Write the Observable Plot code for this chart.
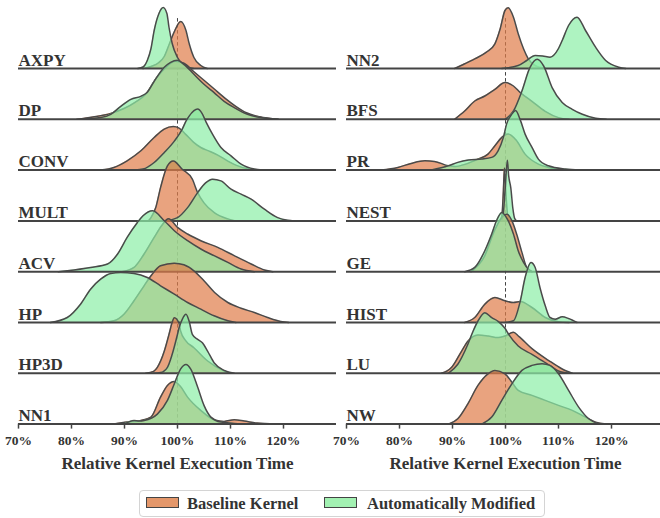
<!DOCTYPE html>
<html><head><meta charset="utf-8">
<script src="https://cdn.jsdelivr.net/npm/d3@7"></script>
<script src="https://cdn.jsdelivr.net/npm/@observablehq/plot@0.6"></script>
<style>
html,body{margin:0;padding:0;background:#fff;overflow:hidden;width:660px;height:518px;position:relative;}
#chart{position:absolute;left:0;top:0;}
#chart svg{max-width:none;}
.legend{position:absolute;left:139px;top:490px;width:406px;height:27px;box-sizing:border-box;border:1px solid #d4d4d4;border-radius:4px;font:bold 16.5px "Liberation Serif",serif;color:#333;}
.legend .sw{position:absolute;top:6px;width:33px;height:11px;box-sizing:border-box;border:1.3px solid #444;}
.legend .lb{position:absolute;top:3px;line-height:19px;white-space:nowrap;}
</style></head>
<body>
<div id="chart"></div>
<div class="legend" id="legend"></div>
<script>
// ---------- data ----------
const leftKernels = ["AXPY","DP","CONV","MULT","ACV","HP","HP3D","NN1"];
const rightKernels = ["NN2","BFS","PR","NEST","GE","HIST","LU","NW"];
const seriesNames = ["Baseline Kernel","Automatically Modified"];
const seriesColors = ["#E07C48","#8CEEA6"];
const legendColors = ["#E4976A","#A2F1B2"];
const xTicks = [70,80,90,100,110,120];
const xDomain = [70,130];
const axisTitle = "Relative Kernel Execution Time";

// [relative execution time %, density (relative units)]
const AXPY_base = [[93.5,0],[95,2],[96.5,6],[97.5,12],[98.5,25],[99.5,38],[100.6,47],[101.6,38],[102.2,25],[103.1,11],[104.4,3],[105.6,0]];
const AXPY_mod  = [[92.5,0],[93.5,1.5],[94.3,8],[95,20],[95.6,38],[96.5,55],[97.3,61],[98,55],[98.4,41],[99,25],[100,11],[101.3,3],[103,0]];
const DP_base   = [[81,0],[84,2.3],[87.3,5.7],[90,11],[92,17],[94,25],[96,41],[98,53],[99.6,58],[101.2,56],[103,48],[105,39],[107,30],[109,21],[111,13],[113,6.5],[115.5,2.5],[119,0]];
const DP_mod    = [[81.8,0],[85.5,1.7],[87.4,5],[89.3,13],[91.2,20],[93.1,23],[94.3,27],[95.6,38],[97.5,52],[98.7,57],[100,59],[101.2,55],[103.1,45],[105,35],[106.9,26.7],[108.8,18],[110.7,11.7],[113.2,5],[115.7,1.7],[119,0]];
const CONV_base = [[85.5,0],[88,2.6],[90.5,9.3],[93.1,19.3],[95.6,32.6],[97.5,41],[99.2,43.5],[100.3,42],[101.5,36],[103,28],[104.4,22.6],[106,19],[107.6,15],[109.5,9],[111,5],[113.5,1],[115,0]];
const CONV_mod  = [[92,0],[93.5,1],[95.6,7.6],[97.5,17.6],[99.4,29],[100.9,41],[101.6,49],[102.2,54],[103.8,61],[104.6,57],[105.4,48],[106.6,36],[108.2,22.6],[110.1,14.3],[112,6],[114.5,1],[116,0]];
const MULT_base = [[94.5,0],[95,3.3],[95.9,13.3],[96.8,33.3],[98.1,55],[99.2,60],[100.9,51.7],[102.8,41.7],[103.8,28.3],[105,18],[107,8],[109.5,2],[111,0]];
const MULT_mod  = [[97.5,0],[100,3.3],[101.9,13.3],[103.8,28.3],[105.3,38],[106.6,41.7],[108.2,40],[110.1,31.7],[112,26.7],[113.9,21.7],[116.4,11.7],[118.9,3.3],[120.8,0.7],[122,0]];
const ACV_base  = [[89.5,0],[91.8,4.3],[93.7,17.7],[95.6,34.3],[97,46],[98.3,53],[100,44.3],[101.9,37.7],[104.4,31],[107.6,24.3],[110.7,16],[113.9,7.7],[116.4,1.7],[118,0]];
const ACV_mod   = [[77.5,0],[79.2,1],[83.6,4.3],[86.8,7.7],[88.7,17.7],[90.5,34.3],[92.4,49],[93.5,56],[95.3,61],[97.5,51],[99.4,41],[101.9,31],[104.4,22.7],[106.9,16],[109.5,9.3],[112,2.7],[114.5,0]];
const HP_base   = [[85.5,0],[88,1.7],[89.9,8.3],[91.8,21.7],[93.7,36.7],[95,46.7],[96.8,56.7],[99.4,59.3],[101.2,57.7],[103.1,51.7],[105,41.7],[107,30],[109.5,20],[112,14.3],[114.5,10],[117,5],[119.5,1],[121,0]];
const HP_mod    = [[76,0],[79.2,5],[81.7,18.3],[83.6,33.3],[85.5,43.3],[87.4,49],[89.3,50],[91.8,49],[94.3,45],[96.8,36.7],[99.4,28.3],[101.9,20],[104.4,13.3],[106.9,6.7],[109.5,1.7],[111,0]];
const HP3D_base = [[94,0],[95.5,2],[96.2,6],[97.5,22],[98.4,39],[99,51],[99.4,55.6],[100.3,50],[100.6,42],[101.5,33],[103.1,25.6],[105.7,12.3],[108.8,2.3],[110,0]];
const HP3D_mod  = [[95.5,0],[96.8,0.7],[98.1,6],[99,19],[100,39],[100.3,45.6],[100.9,54],[101.6,59],[102.2,52],[102.8,39],[103.8,34],[104.7,30.6],[105.7,22],[106.9,10.6],[108.8,3],[110.7,0]];
const NN1_base  = [[88,0],[90.5,2],[93.1,3.7],[95,7],[96.8,27],[98.1,38.7],[99.4,42.7],[100.5,38],[101.9,27],[104.4,13.7],[106.9,4.3],[108.8,2.7],[110.7,4.3],[112.6,3],[115,1],[118.5,0]];
const NN1_mod   = [[89.9,0],[91.8,3.7],[92.8,3.2],[93.7,3.7],[96.2,10],[98.1,23.7],[99.4,40.3],[100.6,55.3],[101.6,59.7],[102.5,55],[103.8,37],[105,18.7],[106.3,7],[108.2,2],[110.7,0.7],[112,0]];

const NN2_base  = [[90.4,0],[92.3,4.7],[94.2,9.7],[96.4,16.3],[98,24.7],[99,39.7],[99.9,58],[100.5,60.7],[101.5,51.3],[102.4,34.7],[103.4,19.7],[104.3,9.7],[105.6,3],[107.5,0]];
const NN2_mod   = [[99.3,0],[102.4,3],[104,8],[105.6,13],[107,12.5],[108.4,11.3],[110,20],[110.7,28],[111.9,43],[113.5,51.3],[115.1,38],[117,21.3],[118.9,8],[121.4,1.3],[122.7,0]];
const BFS_base  = [[90.4,0],[92.3,8.3],[94.2,18.3],[96.1,23.3],[98,30],[99.9,36.7],[101.5,33.3],[102.8,26.7],[105,18],[107.5,8],[110,1.7],[112,0]];
const BFS_mod   = [[99.9,0],[101.5,8.3],[103.1,28.3],[104.6,51.7],[106,60],[107.2,53.3],[108.8,31.7],[110.7,16.7],[112.6,10],[114.5,5],[117,1],[119,0]];
const PR_base   = [[76.5,0],[79.7,2.7],[82.2,6.7],[84.8,9.3],[86.6,8.7],[89.2,4.3],[90.5,3.5],[92.5,6],[94.8,11],[96.7,16],[98,24.3],[99.3,32.7],[100.5,36],[102,30],[103.7,16],[106.2,6],[108.1,2.7],[111.3,0.3],[113,0]];
const PR_mod    = [[86,0],[89.2,4.3],[91,7.7],[93,10],[95.5,11],[97.4,12.7],[98.6,19.3],[99.6,32.7],[100.2,46],[101.2,56],[101.9,59.5],[102.8,50],[103.7,36],[105,22.7],[106.2,11],[108.1,4.3],[111.3,1],[114,0]];
const NEST_base = [[98.9,0],[99.3,4],[99.6,30],[99.8,53],[100.05,30],[100.4,6],[100.9,0]];
const NEST_mod  = [[99.1,0],[99.5,4],[99.95,33],[100.35,60.7],[100.6,45],[101,33],[101.4,12],[101.7,3],[102.1,0]];
const GE_base   = [[93.5,0],[96,15],[98,42],[99.6,56],[100.3,57.5],[101.2,51],[102.1,37.7],[103.1,19.3],[104,4.3],[105,0]];
const GE_mod    = [[92.3,0],[94.2,4.3],[96.1,21],[97.4,37.7],[98.3,51],[99.3,59.3],[100.5,51],[101.5,37.7],[102.4,21],[103.4,9.3],[104.3,2.7],[105,0]];
const HIST_base = [[92.3,0],[94.2,5],[96.1,18.3],[98,25],[99.9,21.7],[101.5,20],[102.8,21],[105,15],[107.5,5],[110,0.7],[112,0]];
const HIST_mod  = [[99.9,0],[101.5,1.7],[102.8,21.7],[103.7,45],[104.8,60],[105.6,55],[106.5,35],[107.5,16.7],[108.4,5],[109.4,3.3],[110.7,5.7],[111.9,4],[113.5,0]];
const LU_base   = [[87.9,0],[89.8,5.7],[91.7,22],[92.9,32],[94.8,38.3],[96.7,37.3],[98.6,35.7],[99.9,37.3],[101.5,41],[102.5,37],[105,24.7],[108.1,13],[110.7,4.3],[112.6,0]];
const LU_mod    = [[89.2,0],[91,9],[92.9,29],[93.9,42.3],[94.8,52.3],[96.1,60.6],[97.4,55.6],[98.6,52],[99.9,45],[100.6,39],[102.4,27.3],[105,19],[107.5,10.7],[110,2.3],[112,0]];
const NW_base   = [[89.2,0],[91,5.3],[92.9,20.3],[94.8,38.7],[96.7,50.3],[98,53.7],[99.9,50.3],[101.2,42],[102.4,33.7],[105,28.7],[107.5,23.7],[110,18.7],[112.6,13.7],[115.1,7],[117,2],[119,0]];
const NW_mod    = [[95.5,0],[97.4,7],[99.3,23.7],[101.2,40.3],[103.1,53.7],[105,58.7],[106.9,60.3],[108.4,58.7],[110,50.3],[111.9,33.7],[113.8,17],[115.7,5.3],[117.6,0]];

// ---------- build table ----------
const curveLookup = {
  AXPY:[AXPY_base,AXPY_mod], DP:[DP_base,DP_mod], CONV:[CONV_base,CONV_mod], MULT:[MULT_base,MULT_mod],
  ACV:[ACV_base,ACV_mod], HP:[HP_base,HP_mod], HP3D:[HP3D_base,HP3D_mod], NN1:[NN1_base,NN1_mod],
  NN2:[NN2_base,NN2_mod], BFS:[BFS_base,BFS_mod], PR:[PR_base,PR_mod], NEST:[NEST_base,NEST_mod],
  GE:[GE_base,GE_mod], HIST:[HIST_base,HIST_mod], LU:[LU_base,LU_mod], NW:[NW_base,NW_mod]
};
const panels = ["L","R"];
const panelKernels = {L:leftKernels, R:rightKernels};
const nRows = leftKernels.length;
const ROW_STEP = 50.8; // vertical offset between ridges (same units as density)
const offset = r => (nRows - 1 - r) * ROW_STEP;

const table = [];
const labels = [];
for (const p of panels) {
  panelKernels[p].forEach((k, r) => {
    labels.push({panel:p, row:r, kernel:k});
    curveLookup[k].forEach((curve, s) => {
      for (const [v, h] of curve) table.push({panel:p, row:r, kernel:k, series:s, v, h});
    });
  });
}

const marks = [];
marks.push(Plot.ruleX(panels, {fx:d=>d, x:()=>100, y1:0, y2:offset(0)+50,
  stroke:"#444", strokeWidth:1, strokeDasharray:"3.5,2.5"}));
for (let r = 0; r < nRows; r++) {
  for (let s = 0; s < 2; s++) {
    const data = table.filter(d => d.row === r && d.series === s);
    marks.push(Plot.areaY(data, {fx:"panel", x:"v", y1:()=>offset(r), y2:d=>offset(r)+d.h, z:"panel",
      fill:seriesColors[s], fillOpacity:0.7, curve:"monotone-x"}));
    marks.push(Plot.lineY(data, {fx:"panel", x:"v", y:d=>offset(r)+d.h, z:"panel",
      stroke:"#4a4a4a", strokeWidth:1.5, curve:"monotone-x"}));
  }
  marks.push(Plot.ruleY(panels, {fx:d=>d, y:()=>offset(r), stroke:"#444", strokeWidth:2}));
}
marks.push(Plot.text(labels, {fx:"panel", x:()=>xDomain[0], y:d=>offset(d.row), text:"kernel",
  textAnchor:"start", lineAnchor:"bottom", dy:-3, fontSize:17, fill:"#333"}));
marks.push(Plot.axisX({ticks:xTicks, tickFormat:d=>d+"%", tickSize:5, tickPadding:6, label:null,
  stroke:"#444", strokeWidth:1.5, fill:"#333", fontSize:13.5}));
marks.push(Plot.text(panels, {fx:d=>d, x:()=>100, frameAnchor:"bottom", dy:45, text:()=>axisTitle,
  fontSize:17, fill:"#333"}));

const H = 486;
const chart = Plot.plot({
  width:664, height:H, marginLeft:18, marginRight:0, marginTop:0, marginBottom:H - 7*ROW_STEP - 68,
  x:{domain:xDomain},
  y:{domain:[0, offset(0) + 68], axis:null},
  fx:{domain:panels, axis:null, paddingInner:0.0305, paddingOuter:0, round:false},
  style:{fontFamily:'"Liberation Serif", serif', fontWeight:"bold", fontSize:"12.5px", color:"#333",
    background:"white", maxWidth:"none", overflow:"visible"},
  marks
});
document.getElementById("chart").appendChild(chart);

// ---------- legend ----------
const legend = document.getElementById("legend");
const items = [{sw:6, lb:47}, {sw:184, lb:227}];
seriesNames.forEach((name, i) => {
  const sw = document.createElement("div");
  sw.className = "sw"; sw.style.left = items[i].sw + "px"; sw.style.background = legendColors[i];
  const lb = document.createElement("div");
  lb.className = "lb"; lb.style.left = items[i].lb + "px"; lb.textContent = name;
  legend.appendChild(sw); legend.appendChild(lb);
});
</script>
</body></html>
